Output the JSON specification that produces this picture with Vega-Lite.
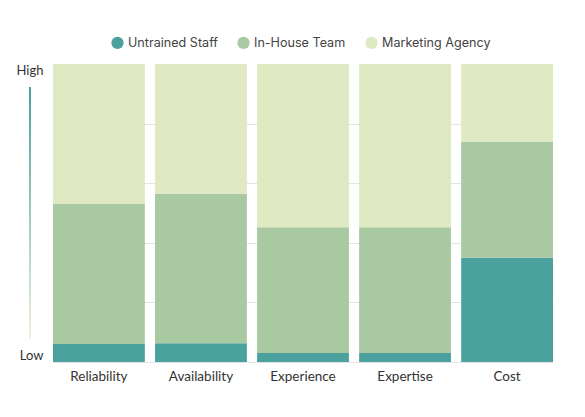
{
  "$schema": "https://vega.github.io/schema/vega-lite/v6.json",
  "width": 500,
  "height": 298,
  "padding": {"left": 16, "top": 36, "right": 32, "bottom": 5},
  "background": "white",
  "config": {
    "view": {"stroke": null},
    "font": "Lato",
    "axis": {"labelFont": "Lato", "labelFontSize": 13, "labelColor": "#333333"},
    "legend": {"labelFont": "Inter", "labelFontSize": 12.6, "labelColor": "#444444"}
  },
  "datasets": {
    "scores": [
      {"Factor": "Reliability", "Option": "Untrained Staff", "Score": 6},
      {"Factor": "Reliability", "Option": "In-House Team", "Score": 47},
      {"Factor": "Reliability", "Option": "Marketing Agency", "Score": 47},
      {"Factor": "Availability", "Option": "Untrained Staff", "Score": 6.3},
      {"Factor": "Availability", "Option": "In-House Team", "Score": 50.2},
      {"Factor": "Availability", "Option": "Marketing Agency", "Score": 43.5},
      {"Factor": "Experience", "Option": "Untrained Staff", "Score": 3},
      {"Factor": "Experience", "Option": "In-House Team", "Score": 42.2},
      {"Factor": "Experience", "Option": "Marketing Agency", "Score": 54.8},
      {"Factor": "Expertise", "Option": "Untrained Staff", "Score": 3},
      {"Factor": "Expertise", "Option": "In-House Team", "Score": 42.2},
      {"Factor": "Expertise", "Option": "Marketing Agency", "Score": 54.8},
      {"Factor": "Cost", "Option": "Untrained Staff", "Score": 35},
      {"Factor": "Cost", "Option": "In-House Team", "Score": 39},
      {"Factor": "Cost", "Option": "Marketing Agency", "Score": 26}
    ],
    "scaleLine": [{"x1": -4.8, "x2": -4.4, "lo": 7.7, "hi": 92.3}]
  },
  "layer": [
    {
      "data": {"name": "scores"},
      "transform": [
        {"calculate": "indexof(['Untrained Staff','In-House Team','Marketing Agency'], datum.Option)", "as": "order"}
      ],
      "mark": {"type": "bar"},
      "encoding": {
        "x": {
          "field": "Factor",
          "type": "nominal",
          "sort": ["Reliability", "Availability", "Experience", "Expertise", "Cost"],
          "scale": {"paddingInner": 0.1, "paddingOuter": 0},
          "axis": {"title": null, "labelAngle": 0, "ticks": false, "domain": false, "labelPadding": 7, "labelFontSize": 13.5}
        },
        "y": {
          "field": "Score",
          "type": "quantitative",
          "stack": "zero",
          "scale": {"domain": [0, 100], "nice": false},
          "axis": {
            "title": null,
            "values": [0, 20, 40, 60, 80, 100],
            "labelExpr": "datum.value == 100 ? 'High' : datum.value == 0 ? 'Low' : ''",
            "labelFlush": true,
            "ticks": false,
            "domain": false,
            "labelPadding": 10,
            "gridColor": {"condition": {"test": "datum.value == 100", "value": "white"}, "value": "#e4e4e4"}
          }
        },
        "color": {
          "field": "Option",
          "type": "nominal",
          "sort": ["Untrained Staff", "In-House Team", "Marketing Agency"],
          "scale": {
            "domain": ["Untrained Staff", "In-House Team", "Marketing Agency"],
            "range": ["#4aa19e", "#a8c9a2", "#dfe9c2"]
          },
          "legend": {
            "title": null,
            "orient": "none",
            "direction": "horizontal",
            "legendX": 58,
            "legendY": -28,
            "symbolType": "circle",
            "symbolSize": 150,
            "symbolStrokeWidth": 0,
            "columnPadding": 19,
            "labelOffset": 4
          }
        },
        "order": {"field": "order", "type": "quantitative"}
      }
    },
    {
      "data": {"name": "scaleLine"},
      "mark": {
        "type": "rect",
        "fill": {
          "gradient": "linear",
          "x1": 0, "y1": 0, "x2": 0, "y2": 1,
          "stops": [
            {"offset": 0, "color": "#4aa19e"},
            {"offset": 1, "color": "#eef2dc"}
          ]
        }
      },
      "encoding": {
        "x": {"field": "x1", "type": "quantitative", "scale": {"domain": [0, 100], "nice": false, "zero": false}, "axis": null},
        "x2": {"field": "x2"},
        "y": {"field": "lo", "type": "quantitative"},
        "y2": {"field": "hi"}
      }
    }
  ],
  "resolve": {"scale": {"x": "independent"}}
}
